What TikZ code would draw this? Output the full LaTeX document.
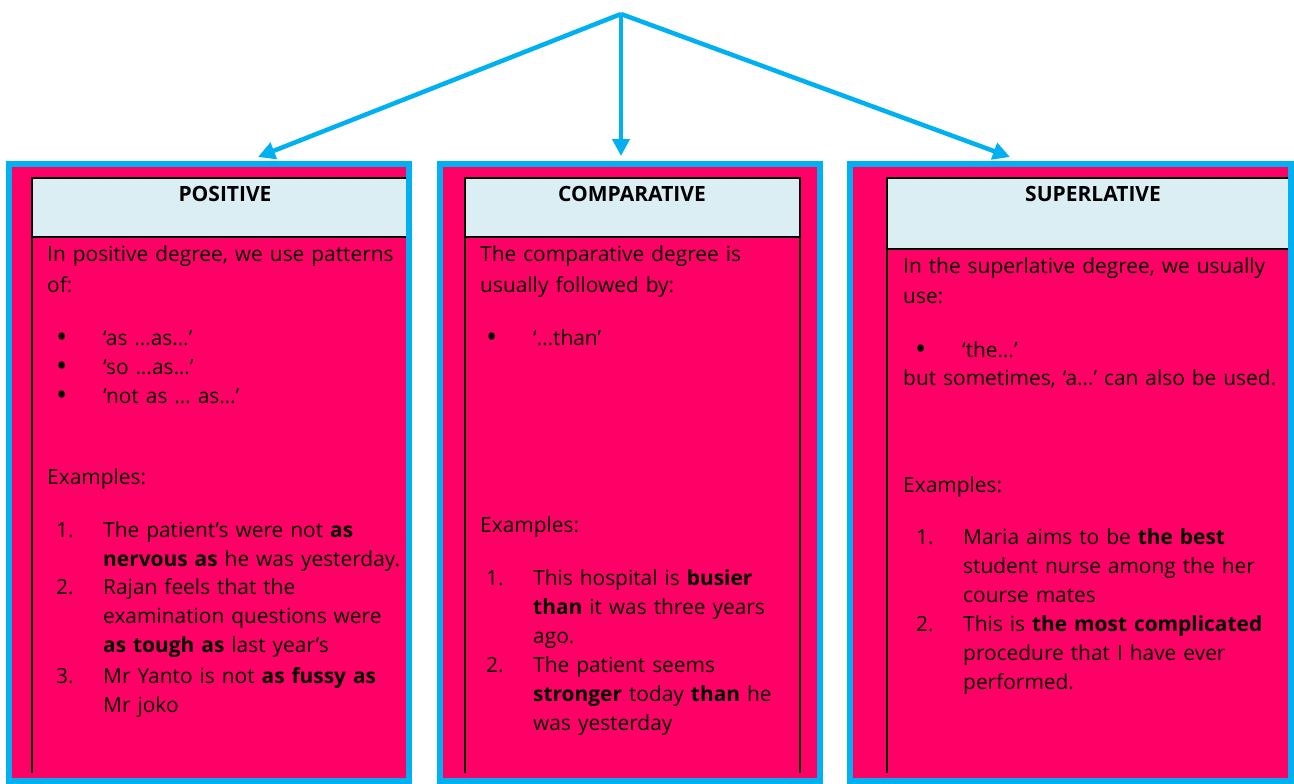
\documentclass[tikz,border=0pt]{standalone}
\usepackage{fontspec}
\setmainfont{Open Sans}
\usetikzlibrary{arrows.meta, positioning}

\definecolor{framecyan}{HTML}{00B0F0}
\definecolor{cardpink}{HTML}{FF0066}
\definecolor{headblue}{HTML}{DAEEF3}

\newcommand{\bigdot}{{\fontsize{30}{29}\selectfont\textbullet}}

\tikzset{
  card/.style={draw=framecyan, line width=6pt, fill=cardpink, inner sep=0pt},
  tablerule/.style={black, line width=2pt},
  degtitle/.style={anchor=base, inner sep=0pt, font=\fontsize{21}{25}\selectfont\bfseries},
  bodytext/.style={anchor=base west, inner sep=0pt, text width=400pt, align=left,
    font=\fontsize{20.9}{31}\selectfont},
  listmark/.style={anchor=base west, inner sep=0pt, font=\fontsize{20.9}{29}\selectfont},
  listtext/.style={anchor=base west, inner sep=0pt, text width=340pt, align=left,
    font=\fontsize{20.9}{29.2}\selectfont},
  pointer/.style={framecyan, line width=4.5pt, -{Triangle[length=17pt, width=17pt]}}
}

\begin{document}
\begin{tikzpicture}[x=1pt, y=-1pt]
  \useasboundingbox (0,0) rectangle (1294,784);

  % the three cards
  \node[card, minimum width=400, minimum height=617] (poscard) at (209,472.5) {};
  \node[card, minimum width=380, minimum height=617] (compcard) at (630,472.5) {};
  \node[card, minimum width=441, minimum height=617] (supcard) at (1070.5,472.5) {};

  % table heads and rules
  \fill[headblue] (32,178) rectangle (406,237);
  \draw[tablerule] (406,178) -- (32,178) -- (32,773);
  \draw[tablerule] (32,237) -- (406,237);

  \fill[headblue] (465,178) rectangle (800,237);
  \draw[tablerule] (465,773) -- (465,178) -- (800,178) -- (800,773);
  \draw[tablerule] (465,237) -- (800,237);

  \fill[headblue] (887,178) rectangle (1288,249);
  \draw[tablerule] (1288,178) -- (887,178) -- (887,773);
  \draw[tablerule] (887,249) -- (1288,249);

  % arrows from the top
  \coordinate (apex) at (621,14);
  \coordinate (postip) at (258,157);
  \coordinate (comptip) at (621,156);
  \coordinate (suptip) at (1010,157);
  \draw[pointer] (apex) -- (postip);
  \draw[pointer] (apex) -- (comptip);
  \draw[pointer] (apex) -- (suptip);

  % positive
  \node[degtitle] (postitle) at (225,201) {POSITIVE};
  \node[bodytext] (posintro) at (47,261) {In positive degree, we use patterns\\of:};
  \node[listmark] (posb1) at (56,347) {\bigdot};
  \node[listtext] (posi1) at (103,345) {‘as …as…’};
  \node[listmark] (posb2) at (56,376) {\bigdot};
  \node[listtext] (posi2) at (103,374) {‘so …as…’};
  \node[listmark] (posb3) at (56,405) {\bigdot};
  \node[listtext] (posi3) at (103,403) {‘not as … as…’};
  \node[bodytext] (posex) at (47,484) {Examples:};
  \node[listmark] (posn1) at (56,537) {1.};
  \node[listtext] (pose1) at (103,537) {The patient’s were not \textbf{as}\\\textbf{nervous as} he was yesterday.};
  \node[listmark] (posn2) at (56,594) {2.};
  \node[listtext] (pose2) at (103,594) {Rajan feels that the\\examination questions were\\\textbf{as tough as} last year’s};
  \node[listmark] (posn3) at (56,683) {3.};
  \node[listtext] (pose3) at (103,683) {Mr Yanto is not \textbf{as fussy as}\\Mr joko};

  % comparative
  \node[degtitle] (comptitle) at (632,201) {COMPARATIVE};
  \node[bodytext] (compintro) at (480,261) {The comparative degree is\\usually followed by:};
  \node[listmark] (compb1) at (486,347) {\bigdot};
  \node[listtext] (compi1) at (533,345) {‘…than’};
  \node[bodytext] (compex) at (480,532) {Examples:};
  \node[listmark] (compn1) at (486,585) {1.};
  \node[listtext] (compe1) at (533,585) {This hospital is \textbf{busier}\\\textbf{than} it was three years\\ago.};
  \node[listmark] (compn2) at (486,672) {2.};
  \node[listtext] (compe2) at (533,672) {The patient seems\\\textbf{stronger} today \textbf{than} he\\was yesterday};

  % superlative
  \node[degtitle] (suptitle) at (1093,201) {SUPERLATIVE};
  \node[bodytext, font=\fontsize{20.9}{30}\selectfont] (supintro) at (903,273) {In the superlative degree, we usually\\use:};
  \node[listmark] (supb1) at (915,359) {\bigdot};
  \node[listtext] (supi1) at (962,357) {‘the…’};
  \node[bodytext] (supnote) at (903,385) {but sometimes, ‘a…’ can also be used.};
  \node[bodytext] (supex) at (903,492) {Examples:};
  \node[listmark] (supn1) at (916,544) {1.};
  \node[listtext] (supe1) at (963,544) {Maria aims to be \textbf{the best}\\student nurse among the her\\course mates};
  \node[listmark] (supn2) at (916,631) {2.};
  \node[listtext] (supe2) at (963,631) {This is \textbf{the most complicated}\\procedure that I have ever\\performed.};
\end{tikzpicture}
\end{document}
